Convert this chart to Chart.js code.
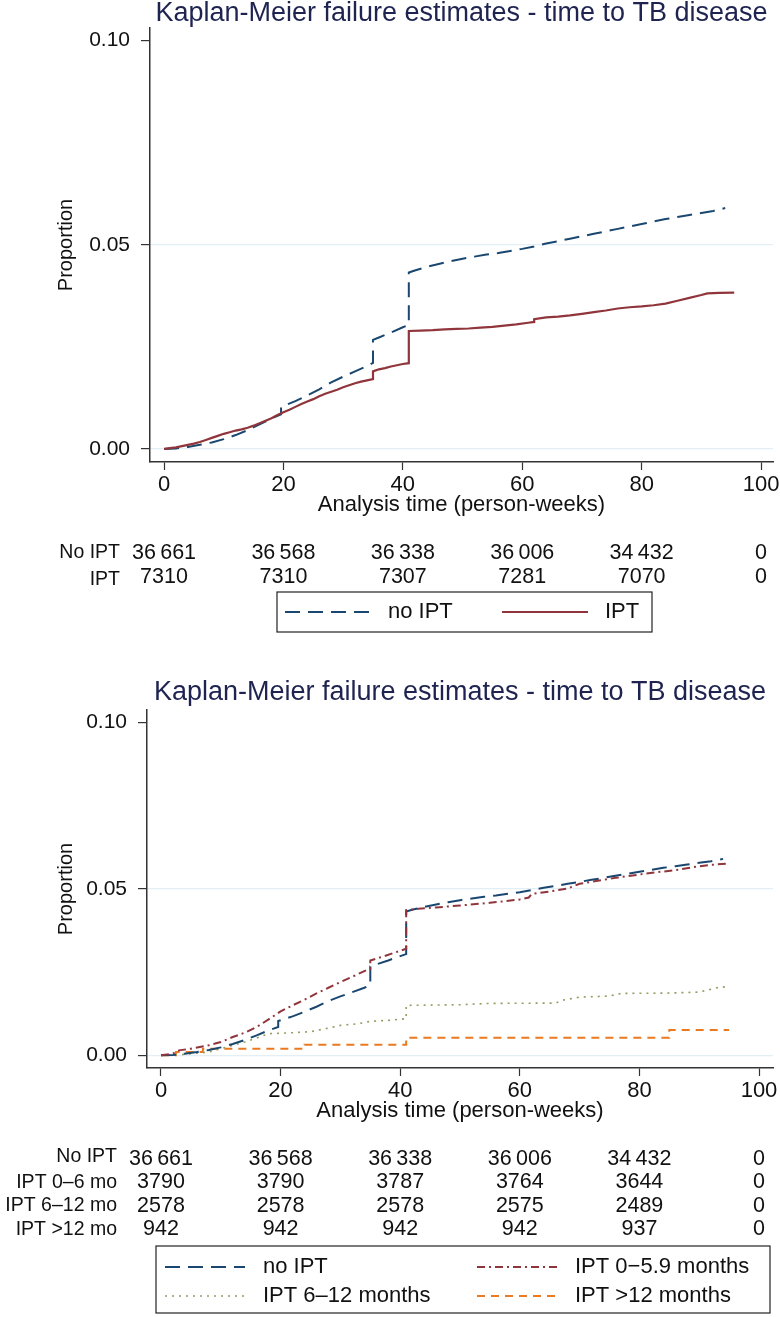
<!DOCTYPE html>
<html lang="en">
<head>
<meta charset="UTF-8">
<title>Kaplan-Meier failure estimates - time to TB disease</title>
<script src="https://cdn.jsdelivr.net/npm/chart.js"></script>
<style>
  body { margin: 0; background: #fff; }
  #wrap { position: relative; width: 780px; height: 1317px; }
  canvas { position: absolute; left: 0; }
</style>
</head>
<body>
<div id="wrap">
  <canvas id="kmTop" width="780" height="650" style="top:0"></canvas>
  <canvas id="kmBottom" width="780" height="667" style="top:650px"></canvas>
</div>
<script>
const titleText = 'Kaplan-Meier failure estimates - time to TB disease'
const xTicks = [0, 20, 40, 60, 80, 100]
const yTicks = [0, 0.05, 0.10]
const riskWeeks = [0, 20, 40, 60, 80, 100]

// failure curves, a repeated week is a vertical jump
// no IPT (same cohort in both panels)
const weeksNoIpt = [0, 2, 4, 6, 8, 10, 12, 14, 16, 18, 19.6, 19.6, 22, 24, 26, 28, 30, 32, 34, 35, 35, 36, 38, 40, 41, 41, 42, 44, 46, 48, 50, 52, 54, 56, 58, 60, 62, 64, 66, 68, 70, 72, 74, 76, 78, 80, 82, 84, 86, 88, 90, 92, 94]
const failNoIpt = [0, 0.0001, 0.0005, 0.0010, 0.0016, 0.0024, 0.0034, 0.0046, 0.0060, 0.0075, 0.0085, 0.0103, 0.0117, 0.0131, 0.0146, 0.0163, 0.0177, 0.0190, 0.0203, 0.0211, 0.0267, 0.0273, 0.0285, 0.0298, 0.0304, 0.0432, 0.0437, 0.0446, 0.0453, 0.0460, 0.0466, 0.0471, 0.0476, 0.0480, 0.0485, 0.0490, 0.0496, 0.0503, 0.0509, 0.0515, 0.0521, 0.0527, 0.0533, 0.0539, 0.0545, 0.0551, 0.0557, 0.0563, 0.0568, 0.0573, 0.0578, 0.0583, 0.0590]

// IPT (any duration)
const weeksIpt = [0, 1, 2, 3, 4, 5, 6, 7, 8, 9, 10, 11, 12, 13, 14, 15, 16, 17, 18, 19, 20, 21, 22, 23, 24, 25, 26, 27, 28, 29, 30, 31, 32, 33, 34, 35, 35, 36, 37, 38, 39, 40, 41, 41, 43, 45, 47, 49, 51, 53, 55, 57, 59, 61, 62, 62, 64, 66, 68, 70, 72, 74, 76, 78, 80, 82, 84, 86, 88, 90, 91, 93, 95.5]
const failIpt = [0, 0.0002, 0.0004, 0.0007, 0.0010, 0.0013, 0.0017, 0.0022, 0.0027, 0.0032, 0.0037, 0.0041, 0.0045, 0.0048, 0.0052, 0.0057, 0.0063, 0.0069, 0.0075, 0.0083, 0.0090, 0.0096, 0.0103, 0.0110, 0.0116, 0.0122, 0.0129, 0.0135, 0.0140, 0.0145, 0.0151, 0.0156, 0.0161, 0.0165, 0.0168, 0.0171, 0.0190, 0.0195, 0.0198, 0.0202, 0.0205, 0.0208, 0.0210, 0.0289, 0.0290, 0.0291, 0.0293, 0.0294, 0.0295, 0.0297, 0.0299, 0.0302, 0.0305, 0.0309, 0.0311, 0.0318, 0.0322, 0.0324, 0.0327, 0.0331, 0.0335, 0.0339, 0.0344, 0.0347, 0.0349, 0.0352, 0.0356, 0.0363, 0.0370, 0.0377, 0.0381, 0.0382, 0.0383]

// IPT 0-5.9 months
const weeksIpt0to6 = [0, 2, 3, 5, 8, 10, 12, 14, 16, 18, 20, 22, 24, 26, 28, 30, 32, 34, 35, 35, 37, 39, 41, 41, 43, 46, 50, 55, 60, 61.5, 62, 65, 68, 70, 73, 76, 80, 83, 86, 89, 92, 95]
const failIpt0to6 = [0, 0.0005, 0.0015, 0.0020, 0.0030, 0.0040, 0.0055, 0.0068, 0.0085, 0.0108, 0.0132, 0.0150, 0.0167, 0.0186, 0.0203, 0.0220, 0.0236, 0.0253, 0.0260, 0.0285, 0.0296, 0.0308, 0.0320, 0.0436, 0.0440, 0.0444, 0.0450, 0.0458, 0.0468, 0.0474, 0.0485, 0.0492, 0.0501, 0.0515, 0.0524, 0.0533, 0.0543, 0.0550, 0.0556, 0.0565, 0.0572, 0.0576]

// IPT 6-12 months
const weeksIpt6to12 = [0, 4, 8, 10, 12, 14, 16, 18, 22, 25, 28, 30, 33, 35, 38, 41, 41, 50, 55, 66, 67, 70, 75, 77, 85, 90, 93, 95]
const failIpt6to12 = [0, 0.0003, 0.0010, 0.0020, 0.0030, 0.0040, 0.0052, 0.0065, 0.0068, 0.0071, 0.0082, 0.0090, 0.0095, 0.0102, 0.0105, 0.0110, 0.0150, 0.0152, 0.0156, 0.0157, 0.0165, 0.0175, 0.0178, 0.0186, 0.0187, 0.0190, 0.0203, 0.0207]

// IPT >12 months (plateaus, drawn stepped)
const weeksIptOver12 = [0, 2.5, 7, 24, 41, 85, 95]
const failIptOver12 = [0, 0.0010, 0.0020, 0.0032, 0.0053, 0.0076, 0.0076]

// number at risk
const atRiskNoIpt = [36661, 36568, 36338, 36006, 34432, 0]
const atRiskIpt = [7310, 7310, 7307, 7281, 7070, 0]
const atRiskIpt0to6 = [3790, 3790, 3787, 3764, 3644, 0]
const atRiskIpt6to12 = [2578, 2578, 2578, 2575, 2489, 0]
const atRiskIptOver12 = [942, 942, 942, 942, 937, 0]

const fontFamily = "'Liberation Sans', Arial, sans-serif"
const axisColor = '#333333'
const gridColor = '#e4eef5'
const navy = '#1a476f'
const maroon = '#90353b'
const khaki = '#959c62'
const orange = '#ea7a22'

const toPoints = (weeks, fail) => weeks.map((w, i) => ({ x: w, y: fail[i] }))
const formatCount = n => n >= 10000 ? String(n).replace(/\B(?=(\d{3})+(?!\d))/g, '\u2009') : String(n)

const riskTablePlugin = {
  id: 'riskTable',
  afterDraw(chart, args, opts) {
    const ctx = chart.ctx
    const xScale = chart.scales.x
    ctx.save()
    ctx.fillStyle = '#111'
    ctx.textBaseline = 'middle'
    opts.rows.forEach((row, i) => {
      const y = opts.top + i * opts.rowGap
      ctx.font = opts.labelFont
      ctx.textAlign = 'right'
      ctx.fillText(row.label, opts.labelRight, y + (row.labelShift || 0))
      ctx.font = opts.valueFont
      ctx.textAlign = 'center'
      row.values.forEach((v, j) => {
        ctx.fillText(formatCount(v), xScale.getPixelForValue(riskWeeks[j]), y)
      })
    })
    ctx.restore()
  }
}

const boxLegendPlugin = {
  id: 'boxLegend',
  afterDraw(chart, args, opts) {
    const ctx = chart.ctx
    ctx.save()
    ctx.strokeStyle = '#222'
    ctx.lineWidth = 1.2
    ctx.strokeRect(opts.left, opts.top, opts.width, opts.height)
    chart.data.datasets.forEach((ds, i) => {
      const col = i % opts.columns
      const row = Math.floor(i / opts.columns)
      const x0 = opts.left + opts.colX[col]
      const y = opts.top + opts.rowY[row]
      ctx.beginPath()
      ctx.setLineDash(ds.borderDash || [])
      ctx.strokeStyle = ds.borderColor
      ctx.lineWidth = ds.borderWidth
      ctx.moveTo(x0, y)
      ctx.lineTo(x0 + opts.sampleWidth, y)
      ctx.stroke()
      ctx.setLineDash([])
      ctx.fillStyle = '#111'
      ctx.font = opts.font
      ctx.textAlign = 'left'
      ctx.textBaseline = 'middle'
      ctx.fillText(ds.label, x0 + opts.sampleWidth + opts.gap, y)
    })
    ctx.restore()
  }
}

function kmScales(xRange, yRange, yAxisWidth) {
  return {
    x: {
      type: 'linear',
      min: xRange[0],
      max: xRange[1],
      afterBuildTicks: axis => { axis.ticks = xTicks.map(v => ({ value: v })) },
      afterFit: axis => { axis.height = 56; axis.paddingLeft = 0; axis.paddingRight = 0 },
      grid: { drawOnChartArea: false, tickLength: 8, tickColor: axisColor, tickWidth: 1.2 },
      border: { color: axisColor, width: 1.5 },
      ticks: { color: '#111', font: { family: fontFamily, size: 22 }, padding: 2, maxRotation: 0 },
      title: { display: true, text: 'Analysis time (person-weeks)', color: '#111', font: { family: fontFamily, size: 22 }, padding: 0 }
    },
    y: {
      min: yRange[0],
      max: yRange[1],
      afterBuildTicks: axis => { axis.ticks = yTicks.map(v => ({ value: v })) },
      afterFit: axis => { axis.width = yAxisWidth; axis.paddingTop = 0; axis.paddingBottom = 0 },
      grid: {
        color: c => (c.tick && c.tick.value > 0.09) ? 'rgba(0,0,0,0)' : gridColor,
        lineWidth: 1.2,
        tickLength: 9,
        tickColor: axisColor,
        tickWidth: 1.2
      },
      border: { color: axisColor, width: 1.5 },
      ticks: { color: '#111', font: { family: fontFamily, size: 21 }, padding: 11, callback: v => v.toFixed(2) },
      title: { display: true, text: 'Proportion', color: '#111', font: { family: fontFamily, size: 20 }, padding: { top: 54, bottom: 0 } }
    }
  }
}

function titleOptions(padBottom) {
  return {
    display: true,
    text: titleText,
    fullSize: false,
    color: '#1e2350',
    font: { family: fontFamily, size: 27, weight: 'normal', lineHeight: 1 },
    padding: { top: 0, bottom: padBottom }
  }
}

// top panel: no IPT vs IPT
new Chart(document.getElementById('kmTop'), {
  type: 'line',
  data: {
    datasets: [
      { label: 'no IPT', data: toPoints(weeksNoIpt, failNoIpt), borderColor: navy, borderWidth: 2, borderDash: [15, 8], order: 2 },
      { label: 'IPT', data: toPoints(weeksIpt, failIpt), borderColor: maroon, borderWidth: 2.2, order: 1 }
    ]
  },
  options: {
    responsive: false,
    animation: false,
    layout: { padding: { left: 0, right: 7, top: 0, bottom: 132 } },
    elements: { point: { radius: 0 }, line: { fill: false, tension: 0 } },
    plugins: {
      legend: { display: false },
      tooltip: { enabled: false },
      title: titleOptions(1),
      riskTable: {
        top: 553, rowGap: 24, labelRight: 120,
        labelFont: '19.5px ' + fontFamily, valueFont: '21.5px ' + fontFamily,
        rows: [
          { label: 'No IPT', values: atRiskNoIpt },
          { label: 'IPT', values: atRiskIpt, labelShift: 3 }
        ]
      },
      boxLegend: {
        left: 277, top: 592, width: 375, height: 40, columns: 2,
        colX: [8, 225], rowY: [20], sampleWidth: 86, gap: 17,
        font: '22px ' + fontFamily
      }
    },
    scales: kmScales([-2.35, 102], [-0.0032, 0.1031], 150)
  },
  plugins: [riskTablePlugin, boxLegendPlugin]
})

// bottom panel: by IPT duration
new Chart(document.getElementById('kmBottom'), {
  type: 'line',
  data: {
    datasets: [
      { label: 'no IPT', data: toPoints(weeksNoIpt, failNoIpt), borderColor: navy, borderWidth: 2, borderDash: [15, 8], order: 2 },
      { label: 'IPT 0\u22125.9 months', data: toPoints(weeksIpt0to6, failIpt0to6), borderColor: maroon, borderWidth: 2, borderDash: [8, 4, 2, 4], order: 1 },
      { label: 'IPT 6\u201312 months', data: toPoints(weeksIpt6to12, failIpt6to12), borderColor: khaki, borderWidth: 1.6, borderDash: [2, 5], order: 3 },
      { label: 'IPT >12 months', data: toPoints(weeksIptOver12, failIptOver12), borderColor: orange, borderWidth: 2, borderDash: [8, 6], stepped: true, order: 4 }
    ]
  },
  options: {
    responsive: false,
    animation: false,
    layout: { padding: { left: 0, right: 7, top: 29, bottom: 193 } },
    elements: { point: { radius: 0 }, line: { fill: false, tension: 0 } },
    plugins: {
      legend: { display: false },
      tooltip: { enabled: false },
      title: titleOptions(4),
      riskTable: {
        top: 509, rowGap: 23.5, labelRight: 117,
        labelFont: '19.5px ' + fontFamily, valueFont: '21.5px ' + fontFamily,
        rows: [
          { label: 'No IPT', values: atRiskNoIpt, labelShift: -2 },
          { label: 'IPT 0\u20136 mo', values: atRiskIpt0to6 },
          { label: 'IPT 6\u201312 mo', values: atRiskIpt6to12 },
          { label: 'IPT >12 mo', values: atRiskIptOver12 }
        ]
      },
      boxLegend: {
        left: 156, top: 596, width: 614, height: 67, columns: 2,
        colX: [9, 321], rowY: [21, 50], sampleWidth: 80, gap: 18,
        font: '22px ' + fontFamily
      }
    },
    scales: kmScales([-2.34, 102.34], [-0.0038, 0.1037], 147)
  },
  plugins: [riskTablePlugin, boxLegendPlugin]
})
</script>
</body>
</html>
